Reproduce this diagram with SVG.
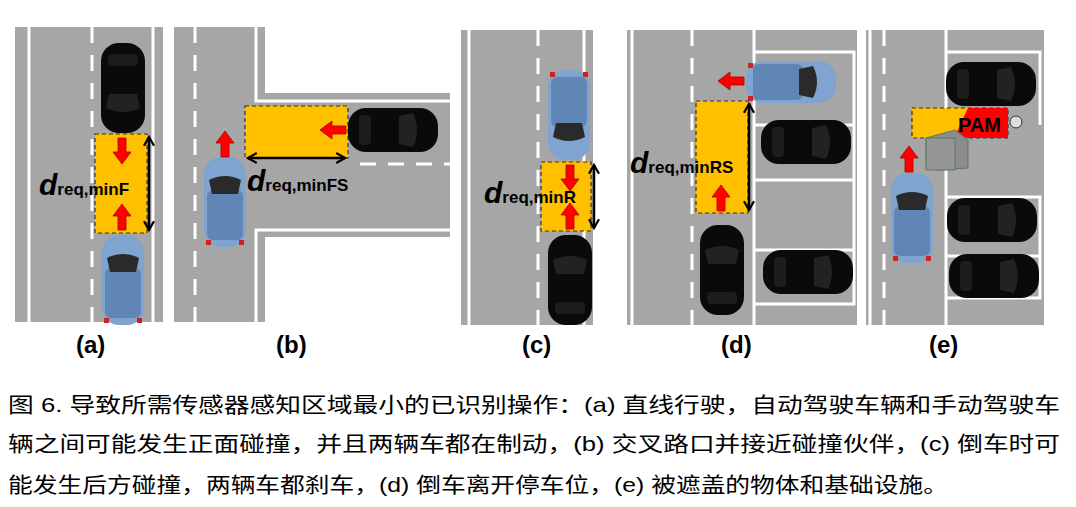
<svg xmlns="http://www.w3.org/2000/svg" width="1076" height="507" viewBox="0 0 1076 507">
<defs>
<style>
.road{fill:#a6a6a6}
.wl{stroke:#fff;stroke-width:3;fill:none}
.dl{stroke:#fff;stroke-width:3;fill:none;stroke-dasharray:16 12}
.zone{fill:#ffc000;stroke:#333;stroke-width:1.2;stroke-dasharray:4 3}
.dim{stroke:#000;stroke-width:2.5;fill:none}
.lab{font-family:"Liberation Sans",Arial,sans-serif;font-weight:bold;fill:#000}
.cap{font-family:"Liberation Sans","Noto Sans CJK SC",sans-serif;font-size:21px;fill:#000}
.ra{fill:#f00;stroke:#a00;stroke-width:0.8}
</style>
<g id="carB">
<rect x="-22" y="-45" width="44" height="90" rx="18" fill="#0a0a0a"/>
<path d="M-17,-20 Q0,-28 17,-20 L14,-6 L-14,-6 Z" fill="#222"/>
<rect x="-15" y="22" width="30" height="12" rx="4" fill="#1c1c1c"/>
</g>
<g id="carL">
<rect x="-21" y="-45" width="42" height="90" rx="17" fill="#7fa4cf"/>
<rect x="-18" y="-12" width="36" height="50" rx="6" fill="#5f86b4"/>
<path d="M-16,-22 Q0,-30 16,-22 L13,-8 L-13,-8 Z" fill="#2a2a2a"/>
<rect x="-19" y="38" width="5" height="5" fill="#c22"/><rect x="14" y="38" width="5" height="5" fill="#c22"/>
</g>
<marker id="ah" viewBox="0 0 10 10" refX="8" refY="5" markerWidth="5" markerHeight="5" orient="auto-start-reverse"><path d="M1,1 L8,5 L1,9" fill="none" stroke="#000" stroke-width="1.8"/></marker>
<path id="rup" d="M-4,0 L-4,-14 L-9,-14 L0,-26 L9,-14 L4,-14 L4,0 Z"/>
</defs>
<rect width="1076" height="507" fill="#fff"/>

<!-- (a) -->
<g id="panel-a">
<rect class="road" x="15" y="27" width="148" height="295"/>
<line class="wl" x1="29" y1="27" x2="29" y2="322"/>
<line class="dl" x1="92" y1="27" x2="92" y2="322"/>
<line class="wl" x1="153" y1="27" x2="153" y2="322"/>
<use href="#carB" transform="translate(123,88) rotate(180)"/>
<rect class="zone" x="95" y="134" width="52" height="99"/>
<use href="#rup" class="ra" transform="translate(122,138) rotate(180)"/>
<use href="#rup" class="ra" transform="translate(122,230)"/>
<use href="#carL" transform="translate(123,280)"/>
<line class="dim" x1="149" y1="137" x2="149" y2="230" marker-start="url(#ah)" marker-end="url(#ah)"/>
<text class="lab" x="39" y="195" font-size="30" font-style="italic">d<tspan font-size="17" font-style="normal">req,minF</tspan></text>
<text class="lab" x="76" y="353" font-size="24">(a)</text>
</g>

<!-- (b) -->
<g id="panel-b">
<rect class="road" x="174" y="27" width="91" height="295"/>
<rect class="road" x="265" y="93" width="185" height="144"/>
<path class="wl" d="M256,27 L256,101 L450,101"/>
<path class="wl" d="M450,230 L256,230 L256,322"/>
<line class="dl" x1="195" y1="27" x2="195" y2="322"/>
<line class="dl" x1="360" y1="164" x2="450" y2="164"/>
<rect class="zone" x="245" y="106" width="103" height="52"/>
<use href="#carB" transform="translate(393,130) rotate(90)"/>
<use href="#rup" class="ra" transform="translate(346,130) rotate(-90)"/>
<use href="#carL" transform="translate(225,202)"/>
<use href="#rup" class="ra" transform="translate(225,157)"/>
<line class="dim" x1="248" y1="158" x2="345" y2="158" marker-start="url(#ah)" marker-end="url(#ah)"/>
<text class="lab" x="247" y="191" font-size="30" font-style="italic">d<tspan font-size="17" font-style="normal">req,minFS</tspan></text>
<text class="lab" x="276" y="353" font-size="24">(b)</text>
</g>

<!-- (c) -->
<g id="panel-c">
<rect class="road" x="461" y="30" width="132" height="295"/>
<line class="wl" x1="469" y1="30" x2="469" y2="325"/>
<line class="dl" x1="538" y1="30" x2="538" y2="325"/>
<line class="wl" x1="584" y1="30" x2="584" y2="325"/>
<use href="#carL" transform="translate(569,115) rotate(180)"/>
<rect class="zone" x="541" y="162" width="50" height="69"/>
<use href="#rup" class="ra" transform="translate(570,165) rotate(180)"/>
<use href="#rup" class="ra" transform="translate(570,229)"/>
<use href="#carB" transform="translate(570,280)"/>
<line class="dim" x1="594" y1="165" x2="594" y2="228" marker-start="url(#ah)" marker-end="url(#ah)"/>
<text class="lab" x="484" y="203" font-size="30" font-style="italic">d<tspan font-size="17" font-style="normal">req,minR</tspan></text>
<text class="lab" x="522" y="353" font-size="24">(c)</text>
</g>

<!-- (d) -->
<g id="panel-d">
<rect class="road" x="627" y="30" width="230" height="295"/>
<line class="wl" x1="632" y1="30" x2="632" y2="325"/>
<line class="dl" x1="692" y1="30" x2="692" y2="325"/>
<path class="wl" d="M754,30 L754,325"/>
<path class="wl" d="M754,52 L854,52 L854,304 L754,304 M754,125 L854,125 M754,180 L854,180 M754,250 L854,250"/>
<use href="#carL" transform="translate(791,82) rotate(90)"/>
<use href="#rup" class="ra" transform="translate(744,81) rotate(-90)"/>
<rect class="zone" x="696" y="101" width="52" height="112"/>
<use href="#rup" class="ra" transform="translate(721,211)"/>
<use href="#carB" transform="translate(722,270)"/>
<use href="#carB" transform="translate(806,142) rotate(90)"/>
<use href="#carB" transform="translate(808,272) rotate(90)"/>
<line class="dim" x1="749" y1="104" x2="749" y2="210" marker-start="url(#ah)" marker-end="url(#ah)"/>
<text class="lab" x="630" y="173" font-size="30" font-style="italic">d<tspan font-size="17" font-style="normal">req,minRS</tspan></text>
<text class="lab" x="721" y="353" font-size="24">(d)</text>
</g>

<!-- (e) -->
<g id="panel-e">
<rect class="road" x="866" y="30" width="178" height="295"/>
<line class="wl" x1="870" y1="30" x2="870" y2="325"/>
<line class="dl" x1="884" y1="30" x2="884" y2="325"/>
<path class="wl" d="M946,30 L946,325"/>
<path class="wl" d="M946,52 L1040,52 L1040,125 M946,197 L1040,197 L1040,298 L946,298 M946,125 L946,125 M946,256 L1040,256"/>
<use href="#carB" transform="translate(991,84) rotate(90)"/>
<use href="#carB" transform="translate(992,220) rotate(90)"/>
<use href="#carB" transform="translate(994,276) rotate(90)"/>
<rect class="zone" x="912" y="108" width="96" height="30"/>
<path d="M968,108 L1008,108 L1008,138 L954,138 Z" fill="#f00"/>
<text class="lab" x="958" y="132" font-size="20">PAM</text>
<circle cx="1016" cy="122" r="6" fill="#ddd" stroke="#333"/>
<polygon points="926,138 955,130 968,140 968,168 938,170 926,162" fill="#8c8c8c" stroke="#5a7a5a"/>
<polygon points="926,138 955,138 955,170 926,170" fill="#959595" stroke="#5a7a5a"/>
<use href="#rup" class="ra" transform="translate(909,172)"/>
<use href="#carL" transform="translate(912,218)"/>
<text class="lab" x="929" y="353" font-size="24">(e)</text>
</g>

<g id="caption">
<text class="cap" x="8" y="412" textLength="1052" lengthAdjust="spacingAndGlyphs">图 6. 导致所需传感器感知区域最小的已识别操作：(a) 直线行驶，自动驾驶车辆和手动驾驶车</text>
<text class="cap" x="8" y="451" textLength="1052" lengthAdjust="spacingAndGlyphs">辆之间可能发生正面碰撞，并且两辆车都在制动，(b) 交叉路口并接近碰撞伙伴，(c) 倒车时可</text>
<text class="cap" x="8" y="492" textLength="940" lengthAdjust="spacingAndGlyphs">能发生后方碰撞，两辆车都刹车，(d) 倒车离开停车位，(e) 被遮盖的物体和基础设施。</text>
</g>
</svg>
